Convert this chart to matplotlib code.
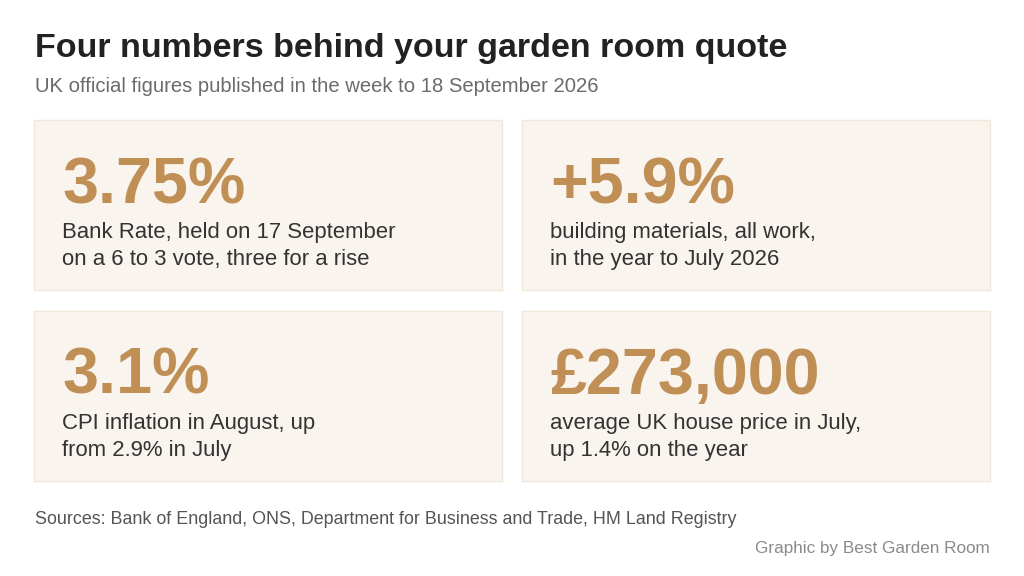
import matplotlib.pyplot as plt
from matplotlib.patches import Rectangle

plt.rcParams['font.family'] = ['Liberation Sans', 'DejaVu Sans']

title = "Four numbers behind your garden room quote"
subtitle = "UK official figures published in the week to 18 September 2026"
values = ["3.75%", "+5.9%", "3.1%", "£273,000"]
labels = [
    "Bank Rate, held on 17 September\non a 6 to 3 vote, three for a rise",
    "building materials, all work,\nin the year to July 2026",
    "CPI inflation in August, up\nfrom 2.9% in July",
    "average UK house price in July,\nup 1.4% on the year",
]
source = "Sources: Bank of England, ONS, Department for Business and Trade, HM Land Registry"
credit = "Graphic by Best Garden Room"

gold = "#bf8f55"
panel_bg = "#f9f4ee"
panel_edge = "#f1e7db"

fig = plt.figure(figsize=(10.24, 5.76), dpi=100)
ax = fig.add_axes([0, 0, 1, 1])
ax.set_xlim(0, 1024)
ax.set_ylim(576, 0)
ax.axis('off')

ax.text(35, 57, title, fontsize=24.5, fontweight='bold', color="#222222", va='baseline')
ax.text(35, 92, subtitle, fontsize=14.6, color="#6b6b6b", va='baseline')

# 2x2 grid of cards
card_x = [34, 522]
card_y = [120, 311]
card_w, card_h = 468, 170
for i, (val, lab) in enumerate(zip(values, labels)):
    x0 = card_x[i % 2]
    y0 = card_y[i // 2]
    ax.add_patch(Rectangle((x0, y0), card_w, card_h, facecolor=panel_bg,
                           edgecolor=panel_edge, linewidth=1))
    ax.text(x0 + 28, y0 + 83, val, fontsize=46.5, fontweight='bold', color=gold, va='baseline')
    ax.text(x0 + 28, y0 + 118, lab.split("\n")[0], fontsize=15.9, color="#333333", va='baseline')
    ax.text(x0 + 28, y0 + 145, lab.split("\n")[1], fontsize=15.9, color="#333333", va='baseline')

ax.text(35, 524, source, fontsize=12.9, color="#555555", va='baseline')
ax.text(990, 553, credit, fontsize=12.3, color="#8a8a8a", va='baseline', ha='right')

fig.savefig("out.png", dpi=100)
